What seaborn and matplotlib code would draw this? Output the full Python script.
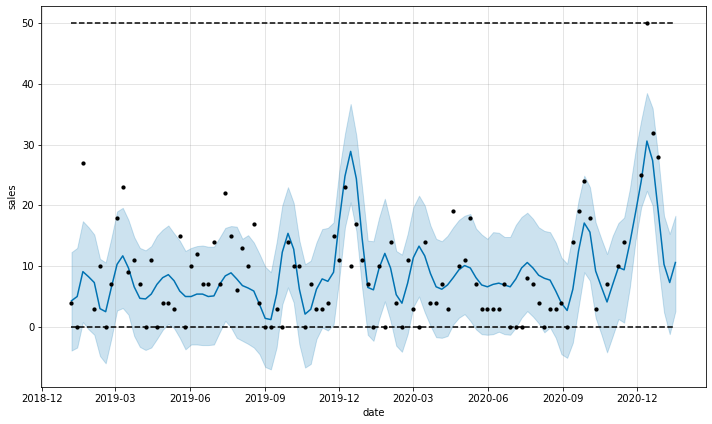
import numpy as np
import pandas as pd
import matplotlib
matplotlib.use("Agg")
import matplotlib.pyplot as plt
import matplotlib.dates as mdates
import seaborn as sns

# weekly forecast dates (history + a few future weeks)
start_date = "2019-01-06"
n_forecast = 107

# observed weekly sales (None = no observation that week)
sales = [4, 0, 27, None, 3, 10, 0, 7, 18, 23, 9, 11, 7, 0, 11, 0, 4, 4, 3, 15,
         0, 10, 12, 7, 7, 14, 7, 22, 15, 6, 13, 10, 17, 4, 0, 0, 3, 0, 14, 10,
         10, 0, 7, 3, 3, 4, 15, 11, 23, 10, 17, 11, 7, 0, 10, 0, 14, 4, 0, 11,
         3, 0, 14, 4, 4, 7, 3, 19, 10, 11, 18, 7, 3, 3, 3, 3, 7, 0, 0, 0,
         8, 7, 4, 0, 3, 3, 4, 0, 14, 19, 24, 18, 3, None, 7, None, 10, 14, None, None,
         25, 50, 32, 28]

yhat = [4.3, 5.0, 9.1, 8.25, 7.3, 3.0, 2.5, 6.5, 10.3, 11.7, 9.7, 6.6, 4.7, 4.6, 5.4, 7.0, 8.1, 8.6, 7.6, 5.9,
        5.0, 5.0, 5.4, 5.4, 5.0, 5.1, 7.0, 8.4, 8.9, 7.9, 6.8, 6.4, 5.9, 3.7, 1.4, 1.2, 5.4, 12.3, 15.4, 12.8,
        6.2, 2.1, 2.9, 6.2, 7.9, 7.5, 9.0, 17.5, 24.8, 28.9, 24.4, 14.7, 6.5, 6.1, 9.7, 12.1, 9.7, 5.3, 3.9, 7.2,
        11.4, 13.3, 11.7, 8.8, 6.6, 6.2, 6.9, 8.1, 9.4, 10.1, 9.7, 8.1, 6.9, 6.6, 7.0, 7.2, 6.9, 6.6, 7.9, 9.7,
        10.6, 9.7, 8.5, 8.0, 7.7, 5.9, 3.9, 2.7, 6.2, 12.5, 17.1, 15.6, 9.2, 6.6, 4.1, 7.0, 9.8, 9.4, 13.8, 18.8,
        24.0, 30.6, 27.4, 18.9, 10.3, 7.3, 10.6]

yhat_upper = [12.3, 13.0, 17.4, 16.4, 15.2, 11.2, 10.6, 14.6, 19.0, 19.6, 17.6, 14.8, 13.0, 12.6, 13.3, 15.0, 16.0, 16.7, 15.4, 14.2,
              12.5, 13.0, 13.3, 13.4, 13.2, 13.2, 14.7, 16.3, 16.6, 16.5, 14.5, 15.1, 13.9, 12.0, 9.9, 9.0, 13.9, 20.0, 23.0, 20.4,
              14.2, 10.3, 10.9, 13.9, 16.1, 16.3, 17.2, 25.7, 31.8, 36.7, 31.5, 23.0, 14.2, 14.1, 18.0, 21.1, 17.2, 12.5, 11.9, 15.3,
              19.7, 21.6, 20.0, 16.7, 14.5, 14.1, 15.0, 16.4, 17.6, 18.3, 18.6, 16.2, 15.2, 14.5, 15.6, 15.5, 14.8, 14.8, 16.8, 18.1,
              18.8, 17.8, 16.4, 15.8, 15.6, 13.9, 11.4, 10.4, 15.3, 20.8, 24.9, 23.0, 17.2, 14.5, 12.0, 15.0, 17.1, 18.0, 22.7, 29.0,
              34.0, 38.5, 36.0, 27.9, 18.3, 15.3, 18.3]

yhat_lower = [-3.9, -3.4, 0.8, -0.4, -1.3, -4.8, -6.0, -1.9, 2.7, 3.1, 2.0, -1.5, -3.3, -3.8, -3.4, -2.0, -0.5, 0.5, -0.2, -1.8,
              -3.7, -2.9, -2.9, -3.0, -3.0, -2.9, -0.9, 1.0, -0.1, -1.8, -2.3, -2.8, -3.4, -4.5, -6.6, -7.0, -3.4, 3.7, 6.5, 4.0,
              -2.9, -6.7, -6.1, -2.0, -0.1, -0.6, 0.4, 7.9, 16.4, 20.5, 15.8, 6.5, -1.3, -2.3, 1.3, 4.2, 1.0, -3.1, -4.1, -1.2,
              3.3, 5.0, 2.4, 0.2, -1.7, -1.8, -1.5, 0.4, 1.5, 2.1, 1.0, -0.4, -1.2, -1.3, -1.2, -0.8, -1.2, -1.3, -0.1, 1.5,
              2.6, 1.7, 0.6, -0.9, -0.1, -1.8, -4.5, -5.1, -2.6, 3.2, 9.0, 7.6, 1.5, -1.2, -4.2, -1.5, 1.3, 0.7, 6.5, 14.2,
              19.7, 22.4, 20.0, 10.3, 2.4, -1.2, 2.6]

cap = 50
floor = 0

ds = pd.date_range(start_date, periods=n_forecast, freq="7D")
fcst = pd.DataFrame({"ds": ds, "yhat": yhat, "yhat_lower": yhat_lower,
                     "yhat_upper": yhat_upper, "cap": cap, "floor": floor})
history = pd.DataFrame({"ds": ds[:len(sales)], "y": pd.array(sales, dtype="Float64")}).dropna()
history["y"] = history["y"].astype(float)

fig = plt.figure(facecolor="w", figsize=(712 / 72, 424 / 72), dpi=72)
ax = fig.add_subplot(111)

sns.scatterplot(data=history, x="ds", y="y", color="k", s=18, linewidth=0, ax=ax, zorder=3)
sns.lineplot(data=fcst, x="ds", y="yhat", color="#0072B2", ax=ax)
sns.lineplot(data=fcst, x="ds", y="cap", color="k", linestyle="--", ax=ax)
sns.lineplot(data=fcst, x="ds", y="floor", color="k", linestyle="--", ax=ax)
ax.fill_between(fcst["ds"], fcst["yhat_lower"], fcst["yhat_upper"], color="#0072B2", alpha=0.2)

# quarterly ticks on Dec/Mar/Jun/Sep like the original
ax.xaxis.set_major_locator(mdates.MonthLocator(bymonth=[3, 6, 9, 12]))
ax.xaxis.set_major_formatter(mdates.DateFormatter("%Y-%m"))

ax.grid(True, which="major", c="gray", ls="-", lw=1, alpha=0.2)
ax.set_xlabel("date")
ax.set_ylabel("sales")
fig.subplots_adjust(left=0.058, right=0.991, top=0.986, bottom=0.088)
fig.savefig("out.png", dpi=72)
